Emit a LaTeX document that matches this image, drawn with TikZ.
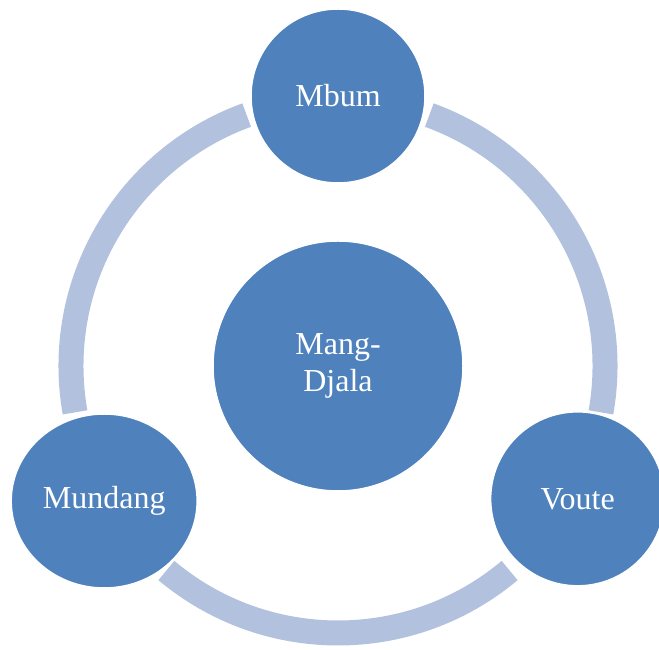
\documentclass[tikz,border=0pt]{standalone}
\usepackage{fontspec}
\setmainfont{Liberation Serif}
\usetikzlibrary{shapes.geometric}
\definecolor{nodeblue}{RGB}{79,129,189}
\definecolor{ringblue}{RGB}{178,193,221}

\begin{document}
\begin{tikzpicture}[x=1pt, y=1pt,
	bubble/.style={circle, fill=nodeblue, draw=white, line width=1.5pt, text=white, inner sep=0pt, align=center, font=\fontsize{32}{37}\selectfont},
	ringarc/.style={draw=ringblue, line width=25pt}]
	\useasboundingbox (0,0) rectangle (659,650);
	\coordinate (ctr) at (338,284);
	% ring pieces between the outer bubbles
	\draw [ringarc] ([shift={(110:267)}]ctr) arc [start angle=110, end angle=190, radius=267];
	\draw [ringarc] ([shift={(230:267)}]ctr) arc [start angle=230, end angle=310, radius=267];
	\draw [ringarc] ([shift={(350:267)}]ctr) arc [start angle=350, end angle=430, radius=267];
	\node [bubble, minimum size=250pt] (hub) at (ctr) {Mang-\\Djala};
	\node [bubble, minimum size=174pt] (mbum) at ([shift={(90:270)}]ctr) {Mbum};
	\node [bubble, minimum size=174pt] (voute) at ([shift={(-29:274)}]ctr) {Voute};
	\node [bubble, ellipse, minimum width=186pt, minimum height=174pt] (mundang) at ([shift={(210:270)}]ctr) {Mundang};
\end{tikzpicture}
\end{document}
